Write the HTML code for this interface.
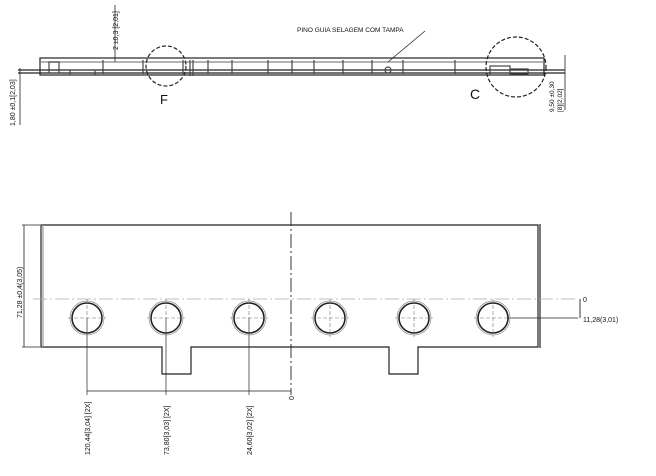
<!DOCTYPE html>
<html><head><style>
body{margin:0;background:#fff}
svg{display:block}
text{font-family:"Liberation Sans",sans-serif;fill:#111}
</style></head><body>
<svg width="656" height="476" viewBox="0 0 656 476" xmlns="http://www.w3.org/2000/svg">
<g stroke="#222" fill="none" stroke-width="1.2">
<!-- top view -->
<line x1="18" y1="70" x2="565" y2="70"/>
<line x1="18" y1="73" x2="565" y2="73"/>
<rect x="40" y="58" width="504" height="17"/>
<line x1="40" y1="62" x2="544" y2="62" stroke="#888"/>
<g stroke="#444">
<rect x="49" y="62" width="10" height="11"/><rect x="70" y="70" width="25" height="5"/>
<line x1="103" y1="60" x2="103" y2="74"/><line x1="143" y1="60" x2="143" y2="74"/>
<line x1="183" y1="60" x2="183" y2="74"/><line x1="190" y1="60" x2="190" y2="76"/>
<line x1="193" y1="60" x2="193" y2="76"/><line x1="208" y1="60" x2="208" y2="74"/>
<line x1="232" y1="60" x2="232" y2="74"/><line x1="268" y1="60" x2="268" y2="74"/>
<line x1="292" y1="60" x2="292" y2="74"/><line x1="314" y1="60" x2="314" y2="74"/>
<line x1="343" y1="60" x2="343" y2="74"/><line x1="372" y1="60" x2="372" y2="74"/>
<line x1="403" y1="60" x2="403" y2="74"/><line x1="455" y1="60" x2="455" y2="74"/>
<rect x="490" y="66" width="20" height="9"/><rect x="510" y="69" width="18" height="5"/>
<circle cx="388" cy="70" r="3"/>
</g>
<circle cx="166" cy="66" r="20" stroke-dasharray="4,2"/>
<circle cx="516" cy="67" r="30" stroke-dasharray="4,2"/>
<line x1="388" y1="62" x2="425" y2="31" stroke-width="0.8"/>
<line x1="115" y1="5" x2="115" y2="62" stroke-width="0.8"/>
<line x1="565" y1="55" x2="565" y2="110" stroke-width="0.8"/>
<line x1="20" y1="68" x2="20" y2="125" stroke-width="0.8"/>
<!-- bottom view -->
<path d="M41 225 H538 V347 H418 V374 H389 V347 H191 V374 H162 V347 H41 Z"/>
<line x1="540" y1="224" x2="540" y2="348"/>
<line x1="43" y1="225" x2="43" y2="347" stroke="#999"/>
<line x1="24" y1="225" x2="24" y2="347" stroke-width="0.8"/>
<line x1="22" y1="225" x2="40" y2="225" stroke-width="0.8"/>
<line x1="22" y1="347" x2="40" y2="347" stroke-width="0.8"/>
<line x1="291" y1="212" x2="291" y2="395" stroke-width="0.9" stroke-dasharray="14,3,2,3"/>
<line x1="33" y1="299" x2="578" y2="299" stroke="#aaa" stroke-width="0.8" stroke-dasharray="14,3,2,3"/>
<line x1="508" y1="318" x2="578" y2="318" stroke-width="0.7"/>
<line x1="580" y1="299" x2="580" y2="318" stroke-width="0.9"/>
<line x1="87" y1="391" x2="291" y2="391" stroke-width="0.8"/>
<line x1="87" y1="318" x2="87" y2="395" stroke-width="0.7"/>
<line x1="166" y1="318" x2="166" y2="395" stroke-width="0.7"/>
<line x1="249" y1="318" x2="249" y2="395" stroke-width="0.7"/>
<g stroke-width="1.6">
<circle cx="87" cy="318" r="15"/><circle cx="166" cy="318" r="15"/><circle cx="249" cy="318" r="15"/>
<circle cx="330" cy="318" r="15"/><circle cx="414" cy="318" r="15"/><circle cx="493" cy="318" r="15"/>
</g>
<g stroke="#888" stroke-width="0.7">
<circle cx="87" cy="318" r="17"/><circle cx="166" cy="318" r="17"/><circle cx="249" cy="318" r="17"/>
<circle cx="330" cy="318" r="17"/><circle cx="414" cy="318" r="17"/><circle cx="493" cy="318" r="17"/>
</g>
<g stroke="#777" stroke-width="0.6" stroke-dasharray="4,2">
<path d="M68 318h38M87 299v38M147 318h38M166 299v38M230 318h38M249 299v38M311 318h38M330 299v38M395 318h38M414 299v38M474 318h38M493 299v38"/>
</g>
</g>
<g font-size="7">
<text x="297" y="32" font-size="6.5">PINO GUIA SELAGEM COM TAMPA</text>
<text transform="translate(118,50) rotate(-90)">2 ±0,3 [2,01]</text>
<text transform="translate(15,126) rotate(-90)">1,80 ±0,1[2,03]</text>
<text transform="translate(554,112) rotate(-90)" font-size="6.5">9,50 ±0,30</text>
<text transform="translate(562,112) rotate(-90)" font-size="6.5">[8][2,02]</text>
<text x="160" y="104" font-size="13">F</text>
<text x="470" y="99" font-size="14">C</text>
<text transform="translate(22,318) rotate(-90)">71,28 ±0,4(3,05)</text>
<text transform="translate(90,455) rotate(-90)">120,44[3,04] [2X]</text>
<text transform="translate(169,455) rotate(-90)">73,80[3,03] [2X]</text>
<text transform="translate(252,455) rotate(-90)">24,60[3,02] [2X]</text>
<text transform="translate(294,400) rotate(-90)">0</text>
<text x="583" y="302">0</text>
<text x="583" y="322">11,28(3,01)</text>
</g>
</svg>
</body></html>
